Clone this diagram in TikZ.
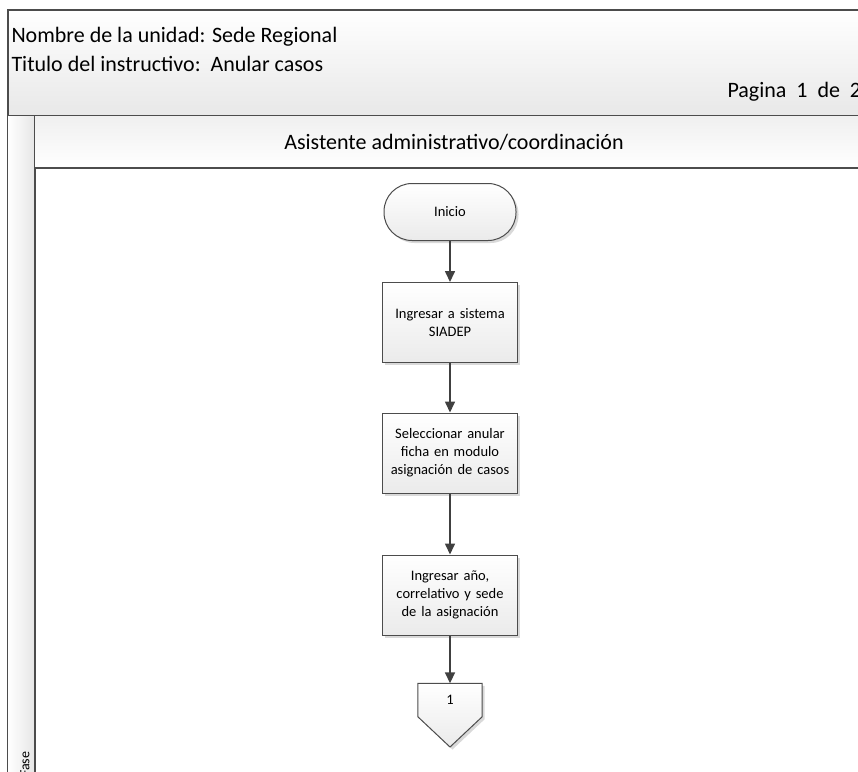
\documentclass[tikz,border=0pt]{standalone}
\usepackage{fontspec}
\setmainfont{Carlito}
\usetikzlibrary{arrows.meta,shadows}
\begin{document}
\begin{tikzpicture}[x=1pt,y=-1pt,
  frame/.style={draw=black!70,line width=1.3pt},
  bigtext/.style={font=\fontsize{22}{26}\selectfont},
  procbox/.style={draw=black!70,line width=1pt,minimum width=132pt,minimum height=80pt,
    align=center,font=\fontsize{14.5}{18}\selectfont,text width=128pt,
    top color=white,bottom color=black!8,
    drop shadow={shadow xshift=2.5pt,shadow yshift=-2.5pt,fill=black!25,opacity=0.6}},
  termbox/.style={draw=black!70,line width=1pt,minimum width=132pt,minimum height=57pt,
    rounded corners=28pt,font=\fontsize{14.5}{18}\selectfont,
    top color=white,bottom color=black!8,
    drop shadow={shadow xshift=2.5pt,shadow yshift=-2.5pt,fill=black!25,opacity=0.6}},
  flow/.style={draw=black!75,line width=1.6pt,-{Triangle[width=10pt,length=11pt]}}
]
\useasboundingbox (0,0) rectangle (858,771);
\clip (0,0) rectangle (858,771);
% header
\path[top color=white,bottom color=black!9] (8,10) rectangle (880,116);
\draw[frame] (8,10) rectangle (880,800);
\draw[frame] (8,116) -- (880,116);
\node[anchor=west,bigtext] (unidad) at (8,37) {Nombre de la unidad: Sede Regional};
\node[anchor=west,bigtext] (titulo) at (8,64) {Titulo del instructivo:\ \ Anular casos};
\node[anchor=west,bigtext] (pagina) at (724,92) {Pagina\ \ 1\ \ de\ \ 2};
% left strip
\path[left color=white,right color=black!10] (8,116) rectangle (35,800);
\draw[frame] (35,116) -- (35,800);
\node[rotate=90,anchor=west,font=\fontsize{14}{16}\selectfont,inner sep=0pt] (fase) at (25,777) {Fase};
% lane header
\path[top color=black!6,bottom color=white] (35,116) rectangle (880,168);
\draw[frame] (35,168) -- (880,168);
\node[bigtext] (lane) at (454,142) {Asistente administrativo/coordinación};
% flow nodes
\node[termbox] (inicio) at (450,212) {Inicio};
\node[procbox] (b1) at (450,322.5) {Ingresar a sistema\\SIADEP};
\node[procbox] (b2) at (450,453) {Seleccionar anular\\ficha en modulo\\asignación de casos};
\node[procbox] (b3) at (450,595) {Ingresar año,\\correlativo y sede\\de la asignación};
\node[minimum width=64pt,minimum height=33pt,inner sep=0pt] (c1) at (450,700) {};
\fill[black!25,opacity=0.6] ([shift={(2.5,2.5)}]c1.north west) -- ([shift={(2.5,2.5)}]c1.north east) -- ([shift={(2.5,2.5)}]c1.south east) -- (452.5,749.5) -- ([shift={(2.5,2.5)}]c1.south west) -- cycle;
\draw[draw=black!70,line width=1pt,top color=white,bottom color=black!8] (c1.north west) -- (c1.north east) -- (c1.south east) -- (450,747) -- (c1.south west) -- cycle;
\node[font=\fontsize{14.5}{18}\selectfont] (c1label) at (c1) {1};
% connectors
\draw[flow] (inicio) -- (b1);
\draw[flow] (b1) -- (b2);
\draw[flow] (b2) -- (b3);
\draw[flow] (b3) -- (c1);
\end{tikzpicture}
\end{document}
